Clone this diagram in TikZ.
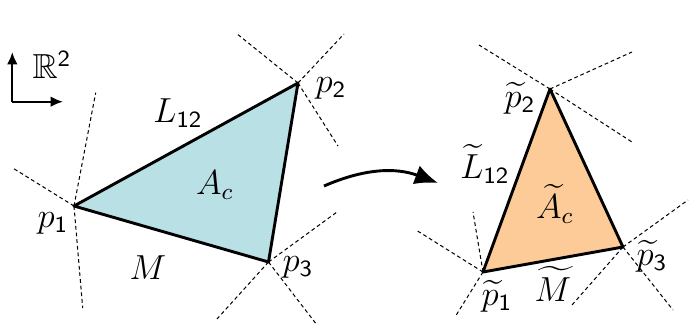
\documentclass[tikz,border=0pt]{standalone}
\usepackage{amssymb}
\usetikzlibrary{arrows.meta,positioning,calc}
\definecolor{Turquesa}{HTML}{B9E0E4}
\definecolor{Naranja}{HTML}{FDCB98}

\begin{document}
\begin{tikzpicture}[x=0.345pt,y=-0.345pt,
    borde/.style={line width=1pt,line join=round},
    corte/.style={dash pattern=on 1.3pt off 1pt,line width=0.35pt},
    flecha/.style={-{Latex[length=2.8mm,width=2.4mm]},line width=1pt},
    eje/.style={-{Latex[length=1.5mm,width=1.3mm]},line width=0.8pt},
    etiqueta/.style={inner sep=0pt,font=\large}]
    \useasboundingbox (0,0) rectangle (689,331);
    % ejes
    \coordinate (origen) at (12.3,101.7);
    \coordinate (ejey) at (12.3,52);
    \coordinate (ejex) at (63,101.7);
    \draw[eje] (origen) -- (ejey);
    \draw[eje] (origen) -- (ejex);
    \node[etiqueta] (espacio) at (52,65) {$\mathbb{R}^{\mathsf{2}}$};
    % triangulo original
    \coordinate (p1) at (74,206);
    \coordinate (p2) at (298,83);
    \coordinate (p3) at (268.5,262);
    \coordinate (c1a) at (12.7,168);
    \coordinate (c1b) at (95.7,92.7);
    \coordinate (c1c) at (82.7,308);
    \coordinate (c2a) at (236,33);
    \coordinate (c2b) at (344,34);
    \coordinate (c2c) at (338,146);
    \coordinate (c3a) at (337,212);
    \coordinate (c3b) at (217,319);
    \coordinate (c3c) at (317,325);
    \foreach \v/\c in {p1/c1a,p1/c1b,p1/c1c,p2/c2a,p2/c2b,p2/c2c,p3/c3a,p3/c3b,p3/c3c}
      \draw[corte] (\v) -- (\c);
    \fill[Turquesa] (p1) -- (p2) -- (p3) -- cycle;
    \draw[borde] (p1) -- (p2) -- (p3) -- cycle;
    \node[etiqueta] (np1) at (53,223) {$p_{\mathsf{1}}$};
    \node[etiqueta] (np2) at (331,88) {$p_{\mathsf{2}}$};
    \node[etiqueta] (np3) at (298,267) {$p_{\mathsf{3}}$};
    \node[etiqueta] (lado) at (178,113) {$L_{\mathsf{12}}$};
    \node[etiqueta] (area) at (215,185) {$A_c$};
    \node[etiqueta] (m) at (148,268) {$M$};
    % mapeo
    \coordinate (ini) at (324,186);
    \coordinate (fin) at (438,183);
    \draw[flecha] (ini) to[bend left=22] (fin);
    % triangulo transformado
    \coordinate (q1) at (483,272);
    \coordinate (q2) at (550,89);
    \coordinate (q3) at (623,247);
    \coordinate (d1a) at (416,230);
    \coordinate (d1b) at (473,212);
    \coordinate (d1c) at (455,317);
    \coordinate (d2a) at (479,45);
    \coordinate (d2b) at (632,52);
    \coordinate (d2c) at (632,142);
    \coordinate (d3a) at (688,200);
    \coordinate (d3b) at (572,305);
    \coordinate (d3c) at (673,310);
    \foreach \v/\c in {q1/d1a,q1/d1b,q1/d1c,q2/d2a,q2/d2b,q2/d2c,q3/d3a,q3/d3b,q3/d3c}
      \draw[corte] (\v) -- (\c);
    \fill[Naranja] (q1) -- (q2) -- (q3) -- cycle;
    \draw[borde] (q1) -- (q2) -- (q3) -- cycle;
    \node[etiqueta] (nq1) at (497,296) {$\widetilde{p}_{\mathsf{1}}$};
    \node[etiqueta] (nq2) at (520,98) {$\widetilde{p}_{\mathsf{2}}$};
    \node[etiqueta] (nq3) at (652,256) {$\widetilde{p}_{\mathsf{3}}$};
    \node[etiqueta] (ladot) at (485,164) {$\widetilde{L}_{\mathsf{12}}$};
    \node[etiqueta] (areat) at (555,204) {$\widetilde{A}_c$};
    \node[etiqueta] (mt) at (553,284) {$\widetilde{M}$};
  \end{tikzpicture}
\end{document}
